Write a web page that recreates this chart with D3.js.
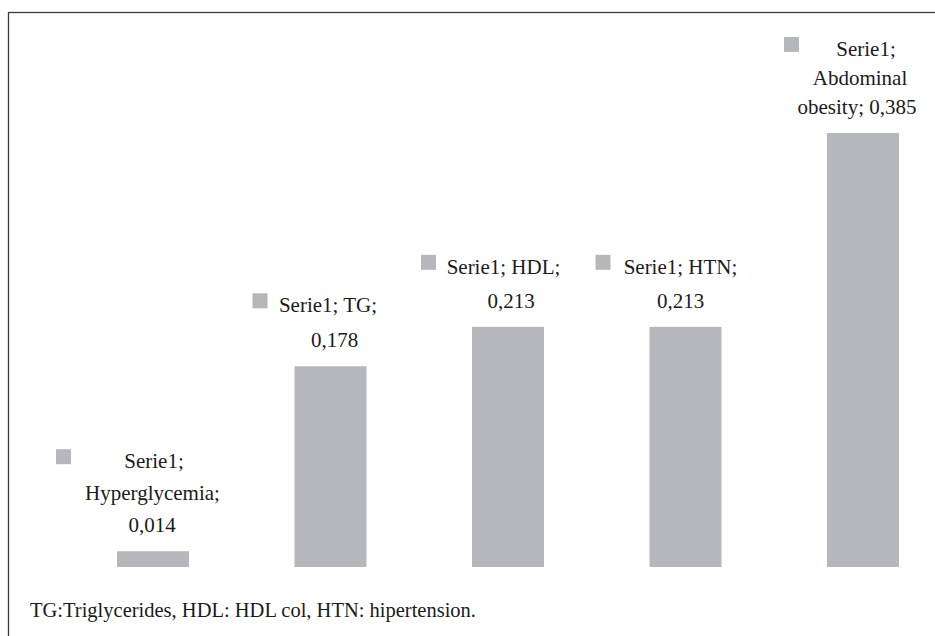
<!DOCTYPE html>
<html>
<head>
<meta charset="utf-8">
<script src="https://cdn.jsdelivr.net/npm/d3@7"></script>
<style>
  html, body { margin: 0; padding: 0; background: #fff; }
  svg { display: block; }
  text { font-family: "Liberation Serif", "Times New Roman", serif; fill: #1c1a1b; }
</style>
</head>
<body>
<script>
// Metabolic syndrome components – proportion per component
const seriesName = "Serie1";
const categories = ["Hyperglycemia", "TG", "HDL", "HTN", "Abdominal obesity"];
const values = [0.014, 0.178, 0.213, 0.213, 0.385];
const valueLabels = ["0,014", "0,178", "0,213", "0,213", "0,385"];
// How each data label wraps onto lines
const labelLines = [
  ["Serie1;", "Hyperglycemia;", "0,014"],
  ["Serie1; TG;", "0,178"],
  ["Serie1; HDL;", "0,213"],
  ["Serie1; HTN;", "0,213"],
  ["Serie1;", "Abdominal", "obesity; 0,385"]
];
const footnote = "TG:Triglycerides, HDL: HDL col, HTN: hipertension.";

// Layout of the data-label boxes (relative to each bar's centre)
const labelLayout = [
  { keyDx: -97, lineDx: [1, -0.5, -1], spacing: 32 },
  { keyDx: -78, lineDx: [-2.5, 4], spacing: 35 },
  { keyDx: -87, lineDx: [-4.5, 3], spacing: 34 },
  { keyDx: -90, lineDx: [-5, -5], spacing: 34 },
  { keyDx: -79, lineDx: [3, -3, -6], spacing: 29 }
];

const W = 935, H = 636;
const barColor = "#b6b7bb";

const svg = d3.select("body").append("svg")
  .attr("width", W).attr("height", H);

// Outer frame (only its top and left edges fall inside the view)
svg.append("rect")
  .attr("x", 8.5).attr("y", 12.5)
  .attr("width", 1200).attr("height", 1200)
  .attr("fill", "none")
  .attr("stroke", "#3a3a3a")
  .attr("stroke-width", 1.3);

const baseY = 567;
const y = d3.scaleLinear().domain([0, 0.4]).range([baseY, baseY - 451]);
const x = d3.scaleBand()
  .domain(categories)
  .range([64.25, 951.75])
  .paddingInner(1 - 72 / 177.5)
  .paddingOuter((1 - 72 / 177.5) / 2);

const data = categories.map((c, i) => ({
  cat: c, value: values[i], label: valueLabels[i],
  lines: labelLines[i], layout: labelLayout[i]
}));

// Bars
svg.append("g").selectAll("rect")
  .data(data)
  .join("rect")
  .attr("x", d => x(d.cat))
  .attr("y", d => y(d.value))
  .attr("width", x.bandwidth())
  .attr("height", d => baseY - y(d.value))
  .attr("fill", barColor);

// Data labels: legend key + wrapped text above each bar
const fontSize = 21;
const gapAboveBar = 19;
svg.append("g").selectAll("g")
  .data(data)
  .join("g")
  .each(function (d) {
    const g = d3.select(this);
    const cx = x(d.cat) + x.bandwidth() / 2;
    const n = d.lines.length;
    const lastBase = y(d.value) - gapAboveBar;
    const firstBase = lastBase - (n - 1) * d.layout.spacing;
    g.append("rect")
      .attr("x", cx + d.layout.keyDx)
      .attr("y", firstBase - 19)
      .attr("width", 15).attr("height", 15)
      .attr("fill", barColor);
    g.selectAll("text")
      .data(d.lines)
      .join("text")
      .attr("x", (t, j) => cx + d.layout.lineDx[j])
      .attr("y", (t, j) => firstBase + j * d.layout.spacing)
      .attr("text-anchor", "middle")
      .attr("font-size", fontSize)
      .text(t => t);
  });

// Footnote
svg.append("text")
  .attr("x", 30).attr("y", 617)
  .attr("font-size", 20.5)
  .text(footnote);
</script>
</body>
</html>
